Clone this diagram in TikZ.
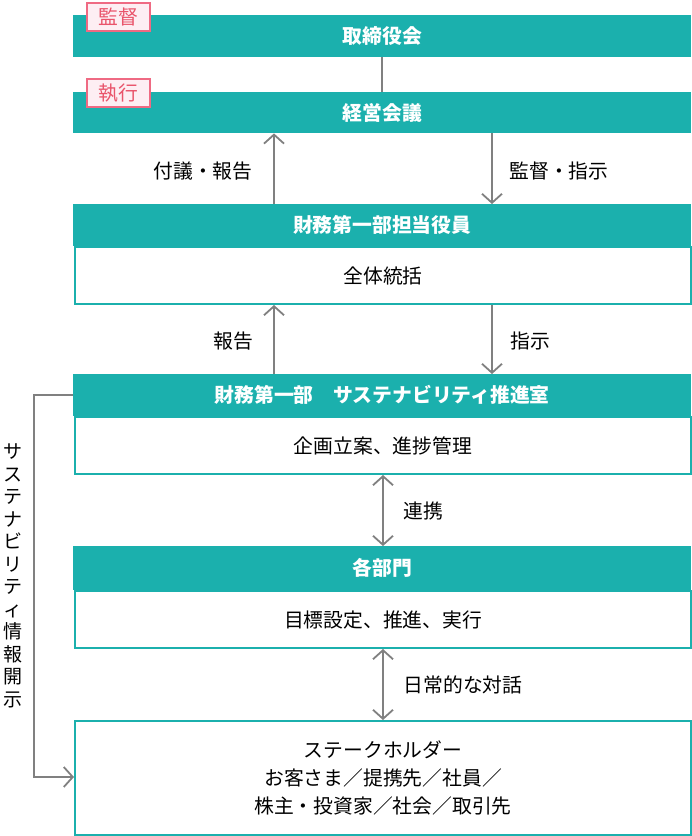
\documentclass[tikz,border=0pt]{standalone}
\usepackage{fontspec}
\setmainfont{Noto Sans CJK JP}
\usetikzlibrary{arrows.meta,calc}
\definecolor{tealc}{HTML}{1BB0AD}
\definecolor{pinkline}{HTML}{EF6A83}
\definecolor{pinkfill}{HTML}{FDEEF3}
\definecolor{pinktext}{HTML}{E9546B}
\definecolor{greyc}{HTML}{808080}
\newcommand{\fsz}{\fontsize{19.8pt}{22pt}\selectfont}
\begin{document}
\begin{tikzpicture}[x=1pt,y=-1pt,
  txt/.style={font=\fsz, inner sep=0pt},
  hdr/.style={fill=tealc, draw=none, minimum width=618pt, anchor=north west, inner sep=0pt, text=white, font=\bfseries\fsz},
  bodybox/.style={draw=tealc, line width=2pt, minimum width=616pt, anchor=north west, inner sep=0pt, font=\fsz},
  tagbox/.style={draw=pinkline, fill=pinkfill, line width=2pt, minimum width=63pt, minimum height=28pt, anchor=north west, inner sep=0pt, text=pinktext, font=\fsz},
  arr/.style={draw=greyc, line width=1.8pt, -{Straight Barb[length=9pt,width=20pt,line width=1.8pt]}},
  darr/.style={draw=greyc, line width=1.8pt, {Straight Barb[length=9pt,width=20pt,line width=1.8pt]}-{Straight Barb[length=9pt,width=20pt,line width=1.8pt]}},
  plainline/.style={draw=greyc, line width=1.8pt}
]
\useasboundingbox (0,0) rectangle (692,836);

% boxes
\node[hdr, minimum height=42pt] (tori) at (73,15) {取締役会};
\node[hdr, minimum height=41pt] (keiei) at (73,92) {経営会議};

\node[bodybox, minimum height=57pt] (yakb) at (74,246) {全体統括};
\node[hdr, minimum height=42pt] (yakh) at (73,204) {財務第一部担当役員};

\node[bodybox, minimum height=57pt] (suib) at (74,416) {企画立案、進捗管理};
\node[hdr, minimum height=42pt] (suih) at (73,374) {財務第一部　サステナビリティ推進室};

\node[bodybox, minimum height=57pt] (bumb) at (74,590) {目標設定、推進、実行};
\node[hdr, minimum height=44pt] (bumh) at (73,546) {各部門};

\node[bodybox, minimum height=114pt, align=center, font=\fontsize{19.8pt}{28pt}\selectfont] (stake) at (74,720) {ステークホルダー\\お客さま／提携先／社員／\\株主・投資家／社会／取引先};

% tags
\node[tagbox] (tag1) at (86,2) {監督};
\node[tagbox] (tag2) at (86,78) {執行};

% connectors
\draw[plainline] (tori.south) -- (keiei.north);
\draw[arr] (yakh.north -| 274,0) -- (keiei.south -| 274,0);
\draw[arr] (keiei.south -| 492,0) -- (yakh.north -| 492,0);
\draw[arr] (suih.north -| 274,0) -- (yakb.south -| 274,0);
\draw[arr] (yakb.south -| 492,0) -- (suih.north -| 492,0);
\draw[darr] (suib.south -| 383,0) -- (bumh.north -| 383,0);
\draw[darr] (bumb.south -| 383,0) -- (stake.north -| 383,0);
\coordinate (lt) at (34,395);
\coordinate (lb) at (34,777);
\draw[arr] (suih.west |- lt) -- (lt) -- (lb) -- (stake.west |- lb);

% labels
\node[txt] (l1) at (203,171) {付議・報告};
\node[txt] (l2) at (559,171) {監督・指示};
\node[txt] (l3) at (233,341) {報告};
\node[txt] (l4) at (530,341) {指示};
\node[txt] (l5) at (423,511) {連携};
\node[txt] (l6) at (463,685) {日常的な対話};
\node[inner sep=0pt, align=center, font=\fontsize{19pt}{22.5pt}\selectfont] (vt) at (13,576) {サ\\ス\\テ\\ナ\\ビ\\リ\\テ\\ィ\\情\\報\\開\\示};
\end{tikzpicture}
\end{document}
